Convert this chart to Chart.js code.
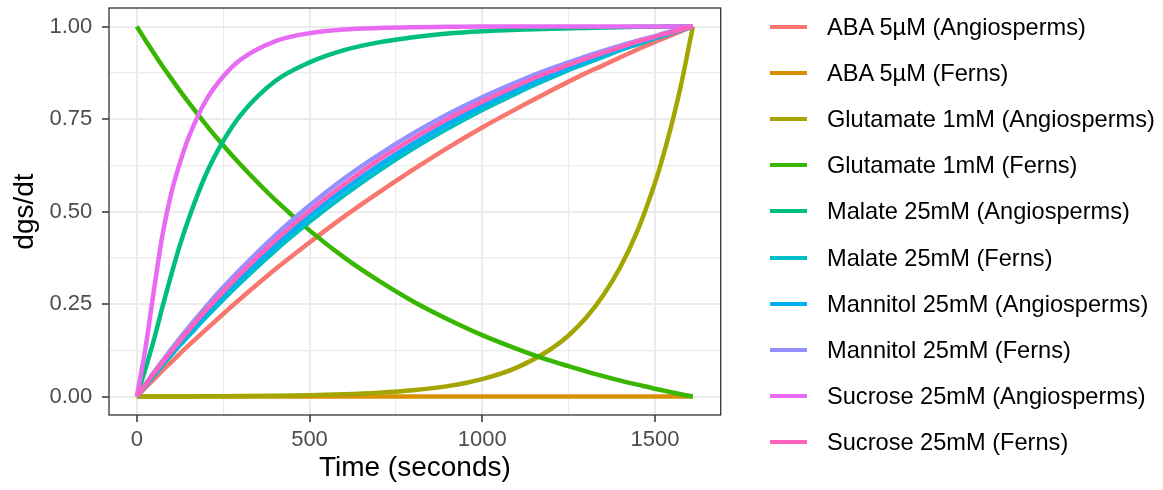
<!DOCTYPE html>
<html>
<head>
<meta charset="utf-8">
<script src="https://cdn.jsdelivr.net/npm/chart.js@4.4.1/dist/chart.umd.min.js"></script>
<style>
  html, body { margin: 0; padding: 0; background: #ffffff; }
  #wrap { position: relative; width: 1163px; height: 490px; font-family: "Liberation Sans", Arial, sans-serif; }
  #wrap canvas { position: absolute; left: 0; top: 0; }
  .legend-row { position: absolute; left: 0; height: 30px; }
  .legend-key { position: absolute; left: 770px; width: 37px; height: 4px; }
  .legend-text { position: absolute; left: 827px; top: 0; font-size: 23.6px; color: #000000; white-space: nowrap; line-height: 30px; }
</style>
</head>
<body>
<div id="wrap">
  <canvas id="chart" width="1163" height="490"></canvas>
  <div id="legend"></div>
</div>
<script>
// time axis (seconds), shared by every series
const timePoints = [0, 25, 50, 75, 100, 125, 150, 200, 250, 300, 400, 500, 600, 700, 800, 900,
  1000, 1100, 1200, 1250, 1300, 1350, 1400, 1450, 1500, 1525, 1550, 1575, 1610];

// dgs/dt values, one list per treatment
const abaAngiosperms = [0, 0.024, 0.047, 0.071, 0.093, 0.116, 0.138, 0.181, 0.223, 0.264, 0.343, 0.416, 0.486, 0.551, 0.613, 0.672,
  0.727, 0.778, 0.827, 0.851, 0.874, 0.895, 0.917, 0.938, 0.958, 0.968, 0.977, 0.987, 1];
const abaFerns = [0, 0, 0, 0, 0, 0, 0, 0, 0, 0, 0, 0, 0, 0, 0, 0,
  0, 0, 0, 0, 0, 0, 0, 0, 0, 0, 0, 0, 0];
const glutamateAngiosperms = [0, 0.0001, 0.0001, 0.0002, 0.0002, 0.0003, 0.0003, 0.0006, 0.0008, 0.0011, 0.002, 0.0036, 0.0061, 0.0103, 0.017, 0.028,
  0.047, 0.078, 0.129, 0.165, 0.212, 0.273, 0.35, 0.449, 0.577, 0.654, 0.741, 0.839, 1];
const glutamateFerns = [1, 0.963, 0.927, 0.892, 0.859, 0.826, 0.795, 0.735, 0.679, 0.627, 0.532, 0.449, 0.376, 0.313, 0.257, 0.209,
  0.166, 0.129, 0.096, 0.082, 0.068, 0.055, 0.043, 0.032, 0.021, 0.016, 0.011, 0.006, 0];
const malateAngiosperms = [0, 0.075, 0.155, 0.245, 0.33, 0.41, 0.48, 0.6, 0.69, 0.76, 0.852, 0.903, 0.936, 0.957, 0.971, 0.981,
  0.987, 0.991, 0.994, 0.995, 0.996, 0.997, 0.998, 0.999, 0.999, 1, 1, 1, 1];
const malateFerns = [0, 0.029, 0.057, 0.085, 0.112, 0.139, 0.164, 0.214, 0.262, 0.308, 0.394, 0.472, 0.544, 0.61, 0.67, 0.724,
  0.774, 0.82, 0.862, 0.882, 0.9, 0.918, 0.936, 0.952, 0.968, 0.975, 0.983, 0.99, 1];
const mannitolAngiosperms = [0, 0.03, 0.06, 0.089, 0.117, 0.145, 0.171, 0.223, 0.273, 0.32, 0.407, 0.487, 0.559, 0.624, 0.683, 0.737,
  0.786, 0.83, 0.87, 0.889, 0.907, 0.924, 0.94, 0.956, 0.97, 0.977, 0.984, 0.991, 1];
const mannitolFerns = [0, 0.033, 0.066, 0.097, 0.128, 0.158, 0.187, 0.242, 0.295, 0.344, 0.435, 0.516, 0.589, 0.653, 0.711, 0.763,
  0.809, 0.85, 0.887, 0.903, 0.919, 0.934, 0.948, 0.962, 0.974, 0.981, 0.987, 0.992, 1];
const sucroseAngiosperms = [0, 0.13, 0.29, 0.44, 0.55, 0.632, 0.7, 0.8, 0.865, 0.91, 0.96, 0.982, 0.992, 0.996, 0.998, 0.999,
  1, 1, 1, 1, 1, 1, 1, 1, 1, 1, 1, 1, 1];
const sucroseFerns = [0, 0.032, 0.063, 0.093, 0.122, 0.151, 0.179, 0.233, 0.283, 0.332, 0.421, 0.501, 0.573, 0.639, 0.697, 0.75,
  0.797, 0.84, 0.879, 0.896, 0.913, 0.929, 0.944, 0.959, 0.972, 0.979, 0.985, 0.992, 1];

const seriesNames = [
  "ABA 5µM (Angiosperms)", "ABA 5µM (Ferns)",
  "Glutamate 1mM (Angiosperms)", "Glutamate 1mM (Ferns)",
  "Malate 25mM (Angiosperms)", "Malate 25mM (Ferns)",
  "Mannitol 25mM (Angiosperms)", "Mannitol 25mM (Ferns)",
  "Sucrose 25mM (Angiosperms)", "Sucrose 25mM (Ferns)",
];
const seriesValues = [
  abaAngiosperms, abaFerns, glutamateAngiosperms, glutamateFerns, malateAngiosperms,
  malateFerns, mannitolAngiosperms, mannitolFerns, sucroseAngiosperms, sucroseFerns,
];
const seriesColors = ["#F8766D", "#D89000", "#A3A500", "#39B600", "#00BF7D",
  "#00BFC4", "#00B0F6", "#9590FF", "#E76BF3", "#FF62BC"];

// major ticks carry labels, minor ones only a grid line
const yMajorTicks = [0, 0.25, 0.5, 0.75, 1];
const yMinorTicks = [0.125, 0.375, 0.625, 0.875];
const xMajorTicks = [0, 500, 1000, 1500];
const xMinorTicks = [250, 750, 1250];

const FONT = "'Liberation Sans', Arial, sans-serif";
const GRID = "#EBEBEB";

const isMajor = (value, list) => list.some((v) => Math.abs(v - value) < 1e-6);

// ggplot-style panel border drawn over the grid
const panelBorder = {
  id: "panelBorder",
  afterDraw(chart) {
    const { ctx, chartArea } = chart;
    ctx.save();
    ctx.strokeStyle = "#333333";
    ctx.lineWidth = 1.3;
    ctx.strokeRect(chartArea.left, chartArea.top, chartArea.right - chartArea.left, chartArea.bottom - chartArea.top);
    ctx.restore();
  },
};

const datasets = seriesNames.map((name, i) => ({
  label: name,
  data: timePoints.map((t, j) => ({ x: t, y: seriesValues[i][j] })),
  borderColor: seriesColors[i],
  backgroundColor: seriesColors[i],
  borderWidth: 4.5,
  pointRadius: 0,
  cubicInterpolationMode: "monotone",
  fill: false,
  // last series on top, as in ggplot
  order: seriesNames.length - 1 - i,
}));

new Chart(document.getElementById("chart"), {
  type: "line",
  data: { datasets },
  options: {
    responsive: false,
    animation: false,
    layout: { padding: { top: 8, right: 442.3, bottom: 0, left: 0 } },
    plugins: {
      legend: { display: false },
      tooltip: { enabled: false },
    },
    scales: {
      x: {
        type: "linear",
        min: -80.5,
        max: 1690.5,
        border: { display: false },
        afterBuildTicks(scale) {
          scale.ticks = xMajorTicks.concat(xMinorTicks).sort((a, b) => a - b).map((v) => ({ value: v }));
        },
        grid: {
          color: GRID,
          lineWidth: (ctx) => (isMajor(ctx.tick.value, xMajorTicks) ? 2 : 1.2),
          drawTicks: true,
          tickLength: 7,
          tickWidth: 1.5,
          tickColor: (ctx) => (isMajor(ctx.tick.value, xMajorTicks) ? "#333333" : "rgba(0,0,0,0)"),
        },
        ticks: {
          autoSkip: false,
          maxRotation: 0,
          padding: 5,
          color: "#4D4D4D",
          font: { family: FONT, size: 22 },
          callback: (value) => (isMajor(value, xMajorTicks) ? String(value) : ""),
        },
        title: {
          display: true,
          text: "Time (seconds)",
          color: "#000000",
          font: { family: FONT, size: 28 },
          padding: { top: 0, bottom: 4.6 },
        },
        afterFit(scale) {
          scale.height = 75;
          scale.paddingLeft = 0;
          scale.paddingRight = 0;
        },
      },
      y: {
        type: "linear",
        min: -0.05,
        max: 1.05,
        border: { display: false },
        afterBuildTicks(scale) {
          scale.ticks = yMajorTicks.concat(yMinorTicks).sort((a, b) => a - b).map((v) => ({ value: v }));
        },
        grid: {
          color: GRID,
          lineWidth: (ctx) => (isMajor(ctx.tick.value, yMajorTicks) ? 2 : 1.2),
          drawTicks: true,
          tickLength: 7,
          tickWidth: 1.5,
          tickColor: (ctx) => (isMajor(ctx.tick.value, yMajorTicks) ? "#333333" : "rgba(0,0,0,0)"),
        },
        ticks: {
          autoSkip: false,
          padding: 9.7,
          color: "#4D4D4D",
          font: { family: FONT, size: 22 },
          callback: (value) => (isMajor(value, yMajorTicks) ? value.toFixed(2) : ""),
        },
        title: {
          display: true,
          text: "dgs/dt",
          color: "#000000",
          font: { family: FONT, size: 28 },
          padding: { top: 8.5, bottom: 0 },
        },
        afterFit(scale) {
          scale.width = 109;
          scale.paddingTop = 0;
          scale.paddingBottom = 0;
        },
      },
    },
  },
  plugins: [panelBorder],
});

// legend on the right, drawn as html text
const legend = document.getElementById("legend");
seriesNames.forEach((name, i) => {
  const row = document.createElement("div");
  row.className = "legend-row";
  row.style.top = (26.6 + i * 46.2 - 15) + "px";
  row.style.width = "1163px";
  const key = document.createElement("span");
  key.className = "legend-key";
  key.style.background = seriesColors[i];
  key.style.top = "13px";
  const text = document.createElement("span");
  text.className = "legend-text";
  text.textContent = name;
  row.appendChild(key);
  row.appendChild(text);
  legend.appendChild(row);
});
</script>
</body>
</html>
